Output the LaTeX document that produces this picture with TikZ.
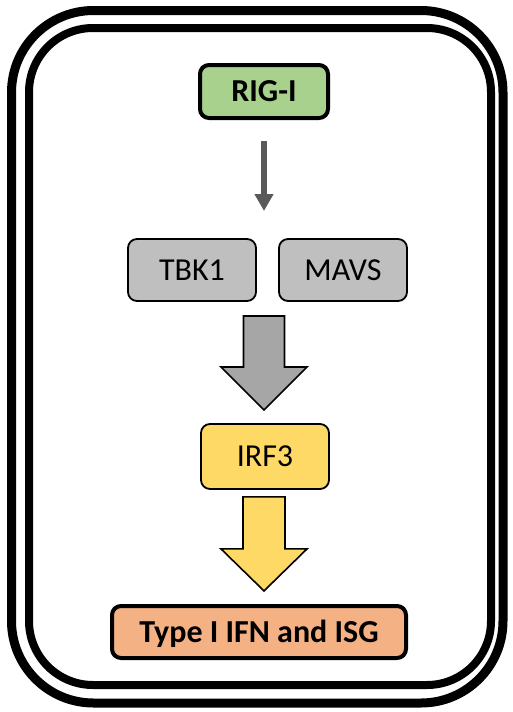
\documentclass[tikz,border=0pt]{standalone}
\usepackage{fontspec}
\setmainfont{Carlito}
\usetikzlibrary{arrows.meta,calc}

\definecolor{rigfill}{HTML}{A9D18E}
\definecolor{greyfill}{HTML}{BFBFBF}
\definecolor{arrowgrey}{HTML}{A6A6A6}
\definecolor{darkarrow}{HTML}{595959}
\definecolor{irffill}{HTML}{FFD966}
\definecolor{ifnfill}{HTML}{F4B183}

\tikzset{
  box/.style={draw=black, rounded corners=9pt, inner sep=0pt, minimum width=128pt,
              text height=20pt, text depth=0pt, font=\fontsize{32}{38}\selectfont},
  thickbox/.style={box, line width=4pt, font=\fontsize{32}{38}\selectfont\bfseries},
  thinbox/.style={box, line width=1.8pt},
  frame/.style={draw=black},
  thinarrow/.style={draw=darkarrow, line width=6pt,
                    -{Triangle[width=18pt,length=17pt]}},
  blockarrow/.style={draw=black, line width=1.6pt, line join=miter},
}

\begin{document}
\begin{tikzpicture}[x=1pt,y=-1pt]
  \useasboundingbox (0,0) rectangle (513,712);

  % double rounded frame
  \draw[frame, line width=9pt, rounded corners=82pt] (11.5,10.5) rectangle (503,703);
  \draw[frame, line width=8pt, rounded corners=64pt] (29,28) rectangle (491,685);

  % pathway nodes
  \node[thickbox, fill=rigfill, minimum height=53pt] (rig) at (264,91.5) {RIG-I};
  \node[thinbox, fill=greyfill, minimum height=62pt] (tbk) at (192,270) {TBK1};
  \node[thinbox, fill=greyfill, minimum height=62pt] (mavs) at (343,270) {MAVS};
  \node[thinbox, fill=irffill, minimum height=65pt] (irf) at (265,456.5) {IRF3};
  \node[thickbox, fill=ifnfill, minimum width=294pt, minimum height=52pt] (ifn) at (259,632) {Type I IFN and ISG};

  % RIG-I to TBK1/MAVS
  \coordinate (a1) at ($(rig.south)+(0,21)$);
  \coordinate (a2) at ($(rig.south)+(0,91)$);
  \draw[thinarrow] (a1) -- (a2);

  % TBK1/MAVS to IRF3 block arrow
  \coordinate (g1) at (264,316);
  \coordinate (g2) at (264,410);
  \filldraw[blockarrow, fill=arrowgrey]
    ($(g1)+(-20.5,0)$) -- ($(g1)+(20.5,0)$) -- ($(g2)+(20.5,-43)$) -- ($(g2)+(43,-43)$)
    -- (g2) -- ($(g2)+(-43,-43)$) -- ($(g2)+(-20.5,-43)$) -- cycle;

  % IRF3 to Type I IFN block arrow
  \coordinate (y1) at ($(irf.south)+(-1,7)$);
  \coordinate (y2) at ($(irf.south)+(-1,101)$);
  \filldraw[blockarrow, fill=irffill]
    ($(y1)+(-21,0)$) -- ($(y1)+(21,0)$) -- ($(y2)+(21,-42)$) -- ($(y2)+(43,-42)$)
    -- (y2) -- ($(y2)+(-43,-42)$) -- ($(y2)+(-21,-42)$) -- cycle;
\end{tikzpicture}
\end{document}
